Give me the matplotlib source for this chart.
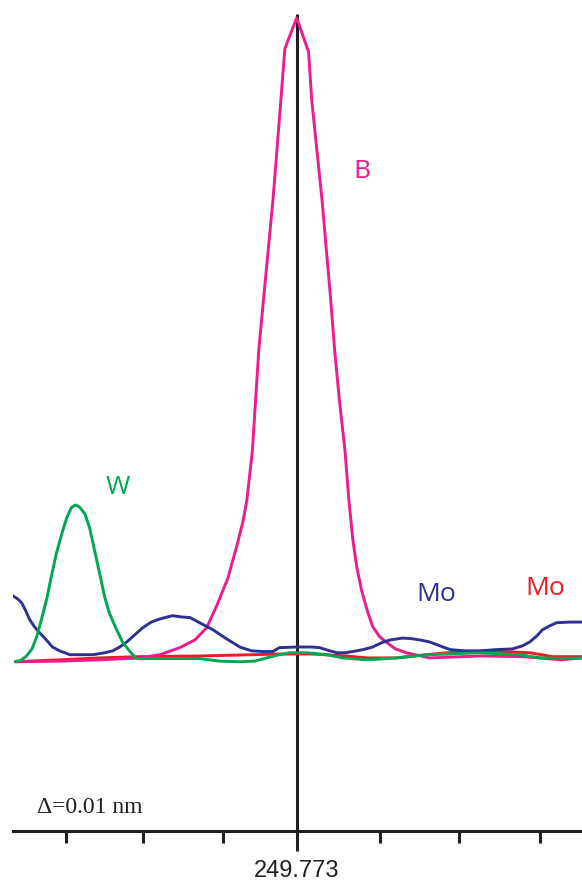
import matplotlib.pyplot as plt

# x: offset from 249.773 nm in pm, y: intensity (% of B peak)
b_x = [-35.6, -30.0, -24.9, -19.9, -17.3, -14.8, -12.9, -11.4, -10.0, -8.7, -7.6, -6.8, -6.3, -5.6,
       -5.2, -4.8, -4.2, -3.0, -2.0, -1.5, 0.0, 1.5, 1.9, 3.2, 4.3, 4.8, 5.4, 6.1, 6.6, 7.1, 7.6,
       8.2, 8.9, 9.6, 10.5, 11.4, 12.5, 13.9, 16.8, 23.2, 28.6, 33.5, 36.1]
b_y = [-0.3, -0.2, 0.0, 0.3, 0.8, 1.9, 3.1, 5.0, 8.8, 12.8, 17.7, 21.6, 25.0, 32.8,
       40.6, 48.4, 56.3, 71.9, 87.5, 95.5, 100.3, 95.0, 87.5, 71.9, 56.3, 48.4, 40.6, 32.8, 25.0, 18.8, 14.5,
       10.9, 7.8, 5.2, 3.6, 2.7, 1.7, 1.1, 0.3, 0.6, 0.5, 0.0, 0.3]

w_x = [-35.6, -34.8, -34.2, -33.5, -32.9, -32.3, -31.6, -31.0, -30.4, -29.7, -29.1, -28.5, -28.0,
       -27.5, -26.8, -26.2, -25.6, -24.9, -24.3, -23.7, -22.9, -22.0, -21.1, -20.3, -16.5, -12.3,
       -9.8, -7.2, -5.3, -3.8, -2.2, -0.9, 1.3, 3.8, 5.8, 8.9, 12.7, 16.8, 23.2, 28.2, 30.8, 33.7, 36.1]
w_y = [-0.3, 0.0, 0.6, 1.7, 3.6, 6.3, 9.7, 13.3, 16.7, 19.8, 22.2, 23.8, 24.2,
       23.9, 22.8, 20.6, 17.2, 13.3, 9.8, 7.3, 5.0, 2.7, 1.3, 0.2, 0.2, 0.2,
       -0.2, -0.3, -0.2, 0.3, 0.8, 1.1, 1.1, 0.8, 0.3, 0.0, 0.3, 0.8, 1.1, 0.8, 0.3, 0.2, 0.3]

mo_red_x = [-35.6, -30.0, -24.9, -19.9, -12.3, -2.2, 2.0, 6.3, 8.9, 12.7, 14.7, 19.0, 24.4, 29.5, 32.4, 36.1]
mo_red_y = [-0.3, 0.0, 0.3, 0.5, 0.6, 0.9, 0.9, 0.6, 0.3, 0.3, 0.6, 1.1, 1.4, 1.1, 0.5, 0.5]

mo_blue_x = [-35.9, -35.3, -34.8, -34.3, -33.8, -33.2, -32.5, -31.6, -30.9, -30.0, -28.7, -25.8,
             -24.3, -23.3, -22.4, -21.5, -20.5, -19.5, -18.4, -17.3, -15.7, -14.6, -13.5, -12.3,
             -10.6, -8.9, -7.2, -5.7, -4.3, -3.0, -2.2, 0.0, 1.9, 2.9, 4.2, 5.1, 6.1, 7.1, 8.4, 9.6,
             10.8, 11.8, 13.4, 14.6, 15.6, 16.8, 18.1, 19.4, 21.3, 23.2, 25.3, 27.3, 28.6, 29.5, 30.4,
             31.1, 32.0, 32.9, 34.6, 36.1]
mo_blue_y = [10.0, 9.5, 8.9, 7.7, 6.3, 5.2, 4.2, 3.0, 2.0, 1.4, 0.8, 0.8,
             1.1, 1.4, 2.0, 2.8, 3.9, 5.0, 5.9, 6.4, 6.9, 6.7, 6.6, 5.8,
             4.7, 3.3, 2.0, 1.4, 1.3, 1.3, 1.9, 2.0, 2.0, 1.9, 1.4, 1.1, 1.1, 1.3, 1.6, 2.0,
             2.7, 3.1, 3.4, 3.3, 3.1, 2.8, 2.2, 1.6, 1.4, 1.4, 1.6, 1.7, 2.2, 2.8, 3.75,
             4.7, 5.3, 5.8, 5.9, 5.9]

minor_ticks = [-29.2, -19.5, -9.3, 10.5, 20.5, 30.8]
center_label = "249.773"

fig = plt.figure(figsize=(5.82, 8.83), dpi=100)
ax = fig.add_axes([13 / 582, 1 - 830.7 / 883, 1 - 13 / 582, 830.7 / 883])
ax.set_xlim(-35.9, 36.1)
ax.set_ylim(-26.7, 103.1)

dark = "#231F20"
ax.vlines(0, -26.7, 100.9, color=dark, lw=2.2, zorder=1)

lw = 2.1
kw = dict(lw=lw, solid_joinstyle="round", solid_capstyle="round")
ax.plot(mo_red_x, mo_red_y, color="#ED1C24", zorder=2, **kw)
ax.plot(b_x, b_y, color="#EC1C8C", zorder=3, **kw)
ax.plot(mo_blue_x, mo_blue_y, color="#2E3192", zorder=4, **kw)
ax.plot(w_x, w_y, color="#00A651", zorder=5, **kw)

lab = dict(fontsize=19, family="Open Sans", ha="center", va="center")
ax.text(8.2, 76.3, "B", color="#EC1C8C", **lab)
ax.text(-22.7, 26.9, "W", color="#00A651", **lab)
ax.text(17.6, 10.2, "Mo", color="#2E3192", **lab)
ax.text(31.5, 11.1, "Mo", color="#ED1C24", **lab)
ax.text(-32.9, -23.1, "\u0394=0.01 nm", fontsize=17, family="Liberation Serif",
        ha="left", va="center", color=dark)

for s in ["top", "left", "right"]:
    ax.spines[s].set_visible(False)
ax.spines["bottom"].set_linewidth(2.2)
ax.spines["bottom"].set_color(dark)
ax.set_yticks([])
ax.set_xticks([0], labels=[center_label])
ax.set_xticks(minor_ticks, minor=True)
ax.tick_params(axis="x", which="major", length=14.4, width=2.2, color=dark, pad=6.5,
               labelsize=17, labelcolor=dark)
ax.tick_params(axis="x", which="minor", length=8.9, width=2.2, color=dark)
for t in ax.get_xticklabels():
    t.set_family("Liberation Sans")

fig.savefig("out.png", dpi=100)
